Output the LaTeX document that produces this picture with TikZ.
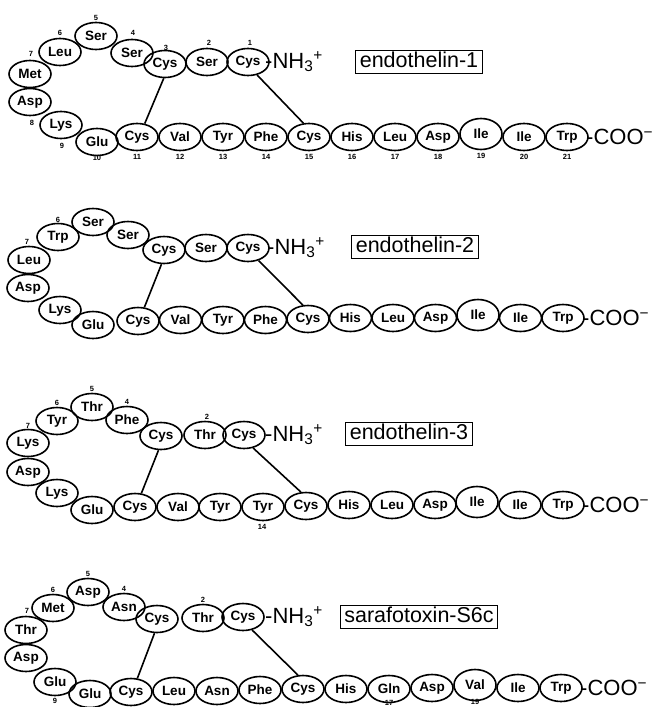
\documentclass[tikz,border=0pt]{standalone}
\usepackage{fontspec}
\setmainfont{Liberation Sans}
\usetikzlibrary{shapes.geometric}
\newcommand\resfnt{\fontsize{13.5}{15}\selectfont\bfseries}
\newcommand\numfnt{\fontsize{7.5}{8}\selectfont\bfseries}
\newcommand\boxfnt{\fontsize{21.5}{24}\selectfont}
\newcommand\termfnt{\fontsize{22}{24}\selectfont}
\tikzset{
  res/.style={ellipse, draw, line width=1.6pt, minimum width=42pt, minimum height=27pt, inner sep=0pt, font=\resfnt},
  ile/.style={res, minimum height=31pt},
  num/.style={font=\numfnt, inner sep=0pt},
  bond/.style={line width=1.6pt},
  namebox/.style={draw, line width=1.2pt, font=\boxfnt, inner xsep=4pt, inner ysep=0pt, text height=17pt, text depth=6pt},
  term/.style={font=\termfnt, inner sep=0pt, anchor=west},
}
\begin{document}
\begin{tikzpicture}[x=1pt,y=-1pt]
\useasboundingbox (0,0) rectangle (656,707);
% ---------------- endothelin-1 ----------------
\node[res] (a1) at (248,62) {Cys};
\node[res] (a2) at (207,62) {Ser};
\node[res] (a3) at (165,64) {Cys};
\node[res] (a4) at (132,53) {Ser};
\node[res] (a5) at (96,36) {Ser};
\node[res] (a6) at (60,52) {Leu};
\node[res] (a7) at (30,74) {Met};
\node[res] (a8) at (30,102) {Asp};
\node[res] (a9) at (61,125) {Lys};
\node[res] (a10) at (97,142) {Glu};
\node[res] (a11) at (137,137) {Cys};
\node[res] (a12) at (180,137) {Val};
\node[res] (a13) at (223,137) {Tyr};
\node[res] (a14) at (266,137) {Phe};
\node[res] (a15) at (309,137) {Cys};
\node[res] (a16) at (352,137) {His};
\node[res] (a17) at (395,137) {Leu};
\node[res] (a18) at (438,137) {Asp};
\node[ile] (a19) at (481,134) {Ile};
\node[res] (a20) at (524,137) {Ile};
\node[res] (a21) at (567,137) {Trp};
\node[term] (n1) at (265,62) {-NH\textsubscript{3}\textsuperscript{+}};
\node[term] (c1) at (586,137) {-COO\textsuperscript{−}};
\node[namebox] (t1) at (419,62) {endothelin-1};
\draw[bond] (a3.-95) -- (a11.60);
\draw[bond] (a1.-55) -- (a15.112);
\node[num] (l1a) at (250,43) {1};
\node[num] (l1b) at (209,43) {2};
\node[num] (l1c) at (166,48) {3};
\node[num] (l1d) at (133,33) {4};
\node[num] (l1e) at (96,18) {5};
\node[num] (l1f) at (60,33) {6};
\node[num] (l1g) at (31,54) {7};
\node[num] (l1h) at (32,123) {8};
\node[num] (l1i) at (62,146) {9};
\node[num] (l1j) at (97,158) {10};
\node[num] (l1k) at (137,157) {11};
\node[num] (l1l) at (180,157) {12};
\node[num] (l1m) at (223,157) {13};
\node[num] (l1n) at (266,157) {14};
\node[num] (l1o) at (309,157) {15};
\node[num] (l1p) at (352,157) {16};
\node[num] (l1q) at (395,157) {17};
\node[num] (l1r) at (438,157) {18};
\node[num] (l1s) at (481,156) {19};
\node[num] (l1t) at (524,157) {20};
\node[num] (l1u) at (567,157) {21};
% ---------------- endothelin-2 ----------------
\node[res] (b1) at (248,248) {Cys};
\node[res] (b2) at (206,248) {Ser};
\node[res] (b3) at (164,250) {Cys};
\node[res] (b4) at (128,235) {Ser};
\node[res] (b5) at (93,222) {Ser};
\node[res] (b6) at (58,237) {Trp};
\node[res] (b7) at (29,260) {Leu};
\node[res] (b8) at (28,288) {Asp};
\node[res] (b9) at (60,310) {Lys};
\node[res] (b10) at (93,325) {Glu};
\node[res] (b11) at (138,321) {Cys};
\node[res] (b12) at (180.5,320) {Val};
\node[res] (b13) at (223,320) {Tyr};
\node[res] (b14) at (265.5,320) {Phe};
\node[res] (b15) at (308,319) {Cys};
\node[res] (b16) at (350.5,318) {His};
\node[res] (b17) at (393,318) {Leu};
\node[res] (b18) at (435.5,318) {Asp};
\node[ile] (b19) at (478,315) {Ile};
\node[res] (b20) at (520.5,318) {Ile};
\node[res] (b21) at (563,318) {Trp};
\node[term] (n2) at (267,248) {-NH\textsubscript{3}\textsuperscript{+}};
\node[term] (c2) at (582,318) {-COO\textsuperscript{−}};
\node[namebox] (t2) at (415,247) {endothelin-2};
\draw[bond] (b3.-100) -- (b11.65);
\draw[bond] (b1.-50) -- (b15.110);
\node[num] (l2f) at (58,220) {6};
\node[num] (l2g) at (27,242) {7};
% ---------------- endothelin-3 ----------------
\node[res] (e1) at (244,435) {Cys};
\node[res] (e2) at (205,435) {Thr};
\node[res] (e3) at (161,436) {Cys};
\node[res] (e4) at (127,420) {Phe};
\node[res] (e5) at (92,407) {Thr};
\node[res] (e6) at (57,421) {Tyr};
\node[res] (e7) at (28,443) {Lys};
\node[res] (e8) at (28,472) {Asp};
\node[res] (e9) at (57,493) {Lys};
\node[res] (e10) at (92,510) {Glu};
\node[res] (e11) at (135,507) {Cys};
\node[res] (e12) at (178,507) {Val};
\node[res] (e13) at (220,507) {Tyr};
\node[res] (e14) at (263,507) {Tyr};
\node[res] (e15) at (306,506) {Cys};
\node[res] (e16) at (349,505) {His};
\node[res] (e17) at (392,505) {Leu};
\node[res] (e18) at (435,505) {Asp};
\node[ile] (e19) at (477,502) {Ile};
\node[res] (e20) at (520,505) {Ile};
\node[res] (e21) at (563,505) {Trp};
\node[term] (n3) at (265,435) {-NH\textsubscript{3}\textsuperscript{+}};
\node[term] (c3) at (582,505) {-COO\textsuperscript{−}};
\node[namebox] (t3) at (409,434) {endothelin-3};
\draw[bond] (e3.-100) -- (e11.65);
\draw[bond] (e1.-55) -- (e15.110);
\node[num] (l3b) at (207,417) {2};
\node[num] (l3d) at (127,402) {4};
\node[num] (l3e) at (92,389) {5};
\node[num] (l3f) at (57,403) {6};
\node[num] (l3g) at (28,426) {7};
\node[num] (l3n) at (262,527) {14};
% ---------------- sarafotoxin-S6c ----------------
\node[res] (s1) at (243,617) {Cys};
\node[res] (s2) at (203,618) {Thr};
\node[res] (s3) at (157,619) {Cys};
\node[res] (s4) at (124,607) {Asn};
\node[res] (s5) at (88,592) {Asp};
\node[res] (s6) at (53,608) {Met};
\node[res] (s7) at (26,630) {Thr};
\node[res] (s8) at (26,658) {Asp};
\node[res] (s9) at (55,682) {Glu};
\node[res] (s10) at (90,694) {Glu};
\node[res] (s11) at (131,692) {Cys};
\node[res] (s12) at (174,691) {Leu};
\node[res] (s13) at (217,691) {Asn};
\node[res] (s14) at (260,690) {Phe};
\node[res] (s15) at (303,689) {Cys};
\node[res] (s16) at (346,689) {His};
\node[res] (s17) at (389,689) {Gln};
\node[res] (s18) at (432,688) {Asp};
\node[ile] (s19) at (475,685) {Val};
\node[res] (s20) at (518,688) {Ile};
\node[res] (s21) at (561,688) {Trp};
\node[term] (n4) at (265,617) {-NH\textsubscript{3}\textsuperscript{+}};
\node[term] (c4) at (580,688) {-COO\textsuperscript{−}};
\node[namebox] (t4) at (419,617) {sarafotoxin-S6c};
\draw[bond] (s3.-100) -- (s11.65);
\draw[bond] (s1.-55) -- (s15.110);
\node[num] (l4b) at (203,600) {2};
\node[num] (l4d) at (124,589) {4};
\node[num] (l4e) at (88,574) {5};
\node[num] (l4f) at (53,590) {6};
\node[num] (l4g) at (27,611) {7};
\node[num] (l4i) at (55,701) {9};
\node[num] (l4q) at (389,702.5) {17};
\node[num] (l4s) at (475,702) {19};
\end{tikzpicture}
\end{document}
